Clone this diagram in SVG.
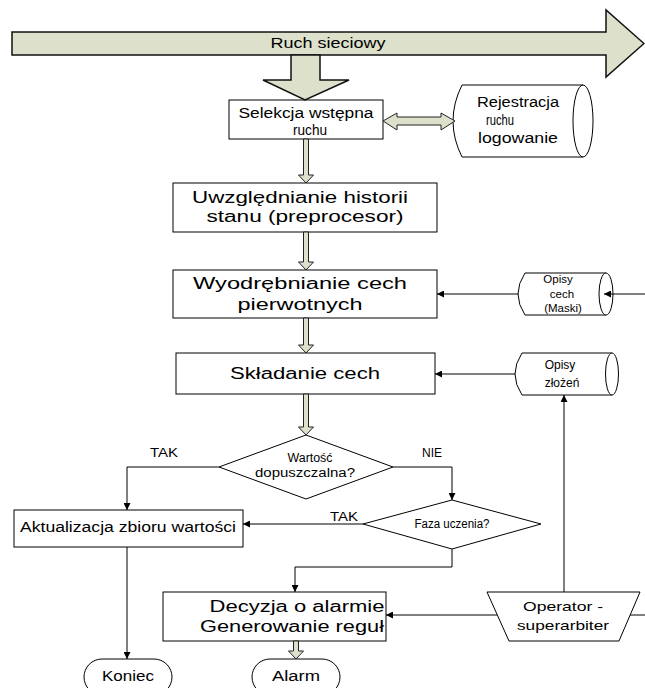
<svg xmlns="http://www.w3.org/2000/svg" width="645" height="688" viewBox="0 0 645 688">
<style>
text{font-family:"Liberation Sans",Arial,sans-serif;fill:#000;text-anchor:middle}
.box{fill:#fff;stroke:#000;stroke-width:1}
.fat{fill:#dde0cb;stroke:#222;stroke-width:1}
.big{fill:#dde0cb;stroke:#111;stroke-width:1.5}
.ln{fill:none;stroke:#000;stroke-width:1}
.s17{font-size:16px}
.s14{font-size:14px}
.s13{font-size:13px}
.s12{font-size:12px}
.s11{font-size:11.5px}
</style>
<defs>
<marker id="ah" viewBox="0 0 10 10" refX="10" refY="5" markerWidth="9" markerHeight="7" markerUnits="userSpaceOnUse" orient="auto">
<path d="M0,0 L10,5 L0,10 z" fill="#000"/>
</marker>
</defs>

<g id="ruch-sieciowy">
<polygon class="big" points="12,32 606,32 606,10 644,43.5 606,77 606,55 12,55"/>
<text class="s14" x="328" y="48" textLength="115" lengthAdjust="spacingAndGlyphs">Ruch sieciowy</text>
</g>

<g id="selekcja">
<rect class="box" x="229" y="100" width="154" height="39"/>
<text class="s14" x="306" y="118" textLength="135" lengthAdjust="spacingAndGlyphs">Selekcja wstępna</text>
<text class="s14" x="310" y="135" textLength="34" lengthAdjust="spacingAndGlyphs">ruchu</text>
</g>

<g id="rejestracja">
<path class="box" d="M583,85 L462,85 Q444,121 462,157 L583,157"/>
<ellipse class="box" cx="583" cy="121" rx="10" ry="36"/>
<text class="s14" x="518" y="107" textLength="82" lengthAdjust="spacingAndGlyphs">Rejestracja</text>
<text class="s14" x="500" y="125" textLength="28" lengthAdjust="spacingAndGlyphs">ruchu</text>
<text class="s14" x="518" y="143" textLength="80" lengthAdjust="spacingAndGlyphs">logowanie</text>
</g>

<g id="uwzglednianie">
<rect class="box" x="173" y="183" width="264" height="49"/>
<text class="s17" x="300" y="203" textLength="216" lengthAdjust="spacingAndGlyphs">Uwzględnianie historii</text>
<text class="s17" x="305" y="222" textLength="197" lengthAdjust="spacingAndGlyphs">stanu (preprocesor)</text>
</g>

<g id="wyodrebnianie">
<rect class="box" x="173" y="270" width="264" height="48"/>
<text class="s17" x="300" y="289" textLength="214" lengthAdjust="spacingAndGlyphs">Wyodrębnianie cech</text>
<text class="s17" x="300" y="310" textLength="125" lengthAdjust="spacingAndGlyphs">pierwotnych</text>
</g>

<g id="opisy-cech">
<path class="box" d="M606,273 L525,273 Q511,294 525,315 L606,315"/>
<ellipse class="box" cx="606" cy="294" rx="7" ry="21"/>
<text class="s11" x="558" y="283">Opisy</text>
<text class="s11" x="562" y="298">cech</text>
<text class="s11" x="563" y="312">(Maski)</text>
</g>

<g id="skladanie">
<rect class="box" x="176" y="353" width="259" height="41"/>
<text class="s17" x="305" y="379" textLength="150" lengthAdjust="spacingAndGlyphs">Składanie cech</text>
</g>

<g id="opisy-zlozen">
<path class="box" d="M612,353 L522,353 Q508,374 522,395 L612,395"/>
<ellipse class="box" cx="612" cy="374" rx="6.5" ry="21"/>
<text class="s12" x="560" y="369">Opisy</text>
<text class="s12" x="562" y="387">złożeń</text>
</g>

<g id="wartosc">
<polygon class="box" points="306,435 393,467 306,499 219,467"/>
<text class="s12" x="310" y="462" textLength="45" lengthAdjust="spacingAndGlyphs">Wartość</text>
<text class="s12" x="305" y="477" textLength="100" lengthAdjust="spacingAndGlyphs">dopuszczalna?</text>
</g>

<g id="faza">
<polygon class="box" points="452,500 541,524 452,549 363,524"/>
<text class="s12" x="452" y="528" textLength="75" lengthAdjust="spacingAndGlyphs">Faza uczenia?</text>
</g>

<g id="aktualizacja">
<rect class="box" x="14" y="510" width="229" height="37"/>
<text class="s14" x="128" y="532" textLength="216" lengthAdjust="spacingAndGlyphs">Aktualizacja zbioru wartości</text>
</g>

<g id="decyzja">
<rect class="box" x="163" y="592" width="223" height="49"/>
<text class="s17" x="297" y="612" textLength="175" lengthAdjust="spacingAndGlyphs">Decyzja o alarmie</text>
<text class="s17" x="292" y="632" textLength="184" lengthAdjust="spacingAndGlyphs">Generowanie reguł</text>
</g>

<g id="operator">
<polygon class="box" points="487,592 640,592 619,641 509,641"/>
<text class="s13" x="563" y="611" textLength="80" lengthAdjust="spacingAndGlyphs">Operator -</text>
<text class="s13" x="563" y="630" textLength="92" lengthAdjust="spacingAndGlyphs">superarbiter</text>
</g>

<g id="koniec">
<rect class="box" x="84" y="659" width="88" height="36" rx="18"/>
<text class="s14" x="128" y="681" textLength="52" lengthAdjust="spacingAndGlyphs">Koniec</text>
</g>

<g id="alarm">
<rect class="box" x="252" y="659" width="88" height="36" rx="18"/>
<text class="s14" x="296" y="681" textLength="48" lengthAdjust="spacingAndGlyphs">Alarm</text>
</g>

<g id="connectors">
<polygon class="big" points="291,55 320,55 320,80 349,80 305,100 263,80 291,80"/>
<polygon class="fat" points="383,121 397,113 397,117 441,117 441,113 455,121 441,130 441,125 397,125 397,130"/>
<polygon class="fat" points="303.5,139 308.5,139 308.5,175 313.5,175 306,183 298.5,175 303.5,175"/>
<polygon class="fat" points="303.5,232 308.5,232 308.5,262 313.5,262 306,270 298.5,262 303.5,262"/>
<polygon class="fat" points="303.5,318 308.5,318 308.5,345 313.5,345 306,353 298.5,345 303.5,345"/>
<polygon class="fat" points="303.5,394 308.5,394 308.5,427 313.5,427 306,435 298.5,427 303.5,427"/>
<polygon class="fat" points="293.5,641 298.5,641 298.5,651 303.5,651 296,659 288.5,651 293.5,651"/>
<line class="ln" x1="645" y1="294" x2="604" y2="294" marker-end="url(#ah)"/>
<line class="ln" x1="518" y1="294" x2="437" y2="294" marker-end="url(#ah)"/>
<line class="ln" x1="515" y1="374" x2="435" y2="374" marker-end="url(#ah)"/>
<polyline class="ln" points="219,467 127,467 127,510" marker-end="url(#ah)"/>
<polyline class="ln" points="393,467 452,467 452,500" marker-end="url(#ah)"/>
<line class="ln" x1="363" y1="524" x2="243" y2="524" marker-end="url(#ah)"/>
<polyline class="ln" points="452,549 452,567 295,567 295,592" marker-end="url(#ah)"/>
<line class="ln" x1="127" y1="547" x2="127" y2="659" marker-end="url(#ah)"/>
<line class="ln" x1="497" y1="615" x2="386" y2="615" marker-end="url(#ah)"/>
<line class="ln" x1="645" y1="615" x2="630" y2="615"/>
<line class="ln" x1="564" y1="592" x2="564" y2="395" marker-end="url(#ah)"/>
</g>
<g id="labels">
<text class="s12" x="164" y="457" textLength="28" lengthAdjust="spacingAndGlyphs">TAK</text>
<text class="s12" x="432" y="457">NIE</text>
<text class="s12" x="344" y="521" textLength="28" lengthAdjust="spacingAndGlyphs">TAK</text>
</g>
</svg>
